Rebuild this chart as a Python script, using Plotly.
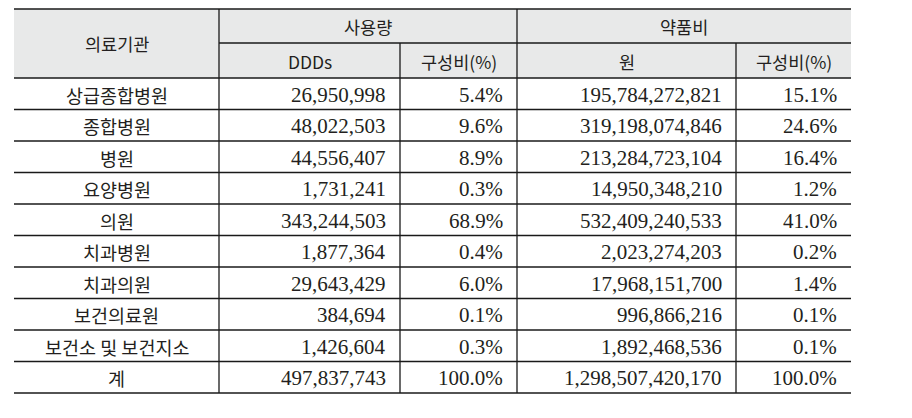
import plotly.graph_objects as go

institutions = ["상급종합병원", "종합병원", "병원", "요양병원", "의원", "치과병원",
                "치과의원", "보건의료원", "보건소 및 보건지소", "계"]
ddds = [26950998, 48022503, 44556407, 1731241, 343244503, 1877364,
        29643429, 384694, 1426604, 497837743]
ddd_pct = [5.4, 9.6, 8.9, 0.3, 68.9, 0.4, 6.0, 0.1, 0.3, 100.0]
cost_won = [195784272821, 319198074846, 213284723104, 14950348210, 532409240533,
            2023274203, 17968151700, 996866216, 1892468536, 1298507420170]
cost_pct = [15.1, 24.6, 16.4, 1.2, 41.0, 0.2, 1.4, 0.1, 0.1, 100.0]

group_headers = ["사용량", "약품비"]
sub_headers = ["DDDs", "구성비(%)", "원", "구성비(%)"]
first_header = "의료기관"

# table geometry (page pixels)
col_x = [14, 219, 400, 517, 736, 851]
top, mid, head_bot, row_h = 9, 43, 78, 31.5
n = len(institutions)
bottom = head_bot + row_h * n
off = 8  # default body margin of the html page

ink = "#231f20"
line = "#1a1a1a"
head_font = dict(family="Noto Sans CJK KR, Noto Sans", size=17.5, color=ink)
label_font = dict(family="Noto Sans CJK KR", size=18.5, color=ink)
num_font = dict(family="Liberation Serif", size=21, color=ink)

fig = go.Figure()
shapes, ann = [], []

# header background
shapes.append(dict(type="rect", x0=col_x[0], x1=col_x[-1], y0=top, y1=head_bot,
                   fillcolor="#e8e9e9", line=dict(width=0), layer="below"))

# horizontal lines
hl = [(top, col_x[0], col_x[-1]), (mid, col_x[1], col_x[-1]), (head_bot, col_x[0], col_x[-1])]
for i in range(1, n + 1):
    hl.append((head_bot + row_h * i, col_x[0], col_x[-1]))
for y, a, b in hl:
    shapes.append(dict(type="line", x0=a, x1=b, y0=y, y1=y, line=dict(color=line, width=1.3)))

# vertical lines
for c in (1, 3):
    shapes.append(dict(type="line", x0=col_x[c], x1=col_x[c], y0=top, y1=bottom, line=dict(color=line, width=1.3)))
for c in (2, 4):
    shapes.append(dict(type="line", x0=col_x[c], x1=col_x[c], y0=mid, y1=bottom, line=dict(color=line, width=1.3)))

def text(x, y, s, font, anchor="center"):
    ann.append(dict(x=x, y=y, text=s, showarrow=False, font=font, xanchor=anchor, yanchor="middle"))

text((col_x[0] + col_x[1]) / 2, (top + head_bot) / 2, first_header, head_font)
for g, h in enumerate(group_headers):
    text((col_x[1 + 2 * g] + col_x[3 + 2 * g]) / 2, (top + mid) / 2, h, head_font)
for c, h in enumerate(sub_headers):
    text((col_x[1 + c] + col_x[2 + c]) / 2, (mid + head_bot) / 2 + 1, h, head_font)

pad = 12
for i in range(n):
    yc = head_bot + row_h * (i + 0.5) + 1
    text((col_x[0] + col_x[1]) / 2, yc, institutions[i], label_font)
    vals = [f"{ddds[i]:,}", f"{ddd_pct[i]:.1f}%", f"{cost_won[i]:,}", f"{cost_pct[i]:.1f}%"]
    for c, v in enumerate(vals):
        text(col_x[2 + c] - pad, yc, v, num_font, anchor="right")

fig.update_layout(
    width=912, height=418, margin=dict(l=0, r=0, t=0, b=0),
    paper_bgcolor="white", plot_bgcolor="white",
    xaxis=dict(range=[off, 912 + off], visible=False, fixedrange=True),
    yaxis=dict(range=[418 + off, off], visible=False, fixedrange=True),
    shapes=shapes, annotations=ann, showlegend=False,
)
fig.write_html("out.html")
